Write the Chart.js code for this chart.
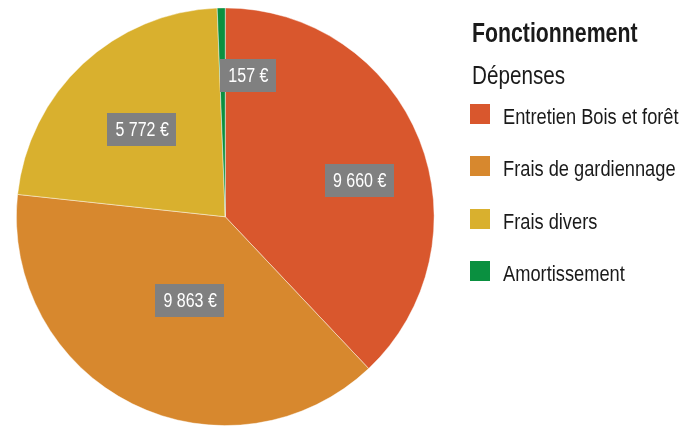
<!DOCTYPE html>
<html>
<head>
<meta charset="utf-8">
<script src="https://cdn.jsdelivr.net/npm/chart.js@4.4.1/dist/chart.umd.min.js"></script>
<style>
  html, body { margin: 0; padding: 0; background: #fff; }
  #wrap { position: relative; width: 697px; height: 426px; }
</style>
</head>
<body>
<div id="wrap"><canvas id="graficoDepenses"></canvas></div>
<script>
// donnees
var categories = ['Entretien Bois et forêt', 'Frais de gardiennage', 'Frais divers', 'Amortissement'];
var montants = [9660, 9863, 5772, 157];
var couleurs = ['#D9572D', '#D7882E', '#D9B02E', '#0A9040'];

var titre = 'Fonctionnement';
var sousTitre = 'Dépenses';

// placement des etiquettes: decalage d'angle (degres) et fraction du rayon
var etiquetteAngle = [6.4, -3.7, -0.5, 10.4];
var etiquetteRayon = [0.667, 0.436, 0.578, 0.686];

var police = '"Liberation Sans", Arial, sans-serif';

var formatEuro = function(v){
	return String(v).replace(/\B(?=(\d{3})+(?!\d))/g, ' ') + ' €';
};

// texte condense (pas de police etroite installee)
var texteEtroit = function(ctx, texte, x, y, sx){
	ctx.save();
	ctx.translate(x, y);
	ctx.scale(sx, 1);
	ctx.fillText(texte, 0, 0);
	ctx.restore();
};

var pluginEtiquettes = {
	id: 'etiquettes',
	afterDatasetsDraw: function(chart){
		var ctx = chart.ctx;
		var arcs = chart.getDatasetMeta(0).data;
		var sx = 0.8;
		ctx.save();
		ctx.font = '20px ' + police;
		ctx.textAlign = 'center';
		ctx.textBaseline = 'middle';
		for (var i = 0; i < arcs.length; i++) {
			var a = arcs[i].getProps(['x', 'y', 'startAngle', 'endAngle', 'outerRadius'], true);
			var mid = (a.startAngle + a.endAngle) / 2 + etiquetteAngle[i] * Math.PI / 180;
			var r = a.outerRadius * etiquetteRayon[i];
			var x = a.x + Math.cos(mid) * r;
			var y = a.y + Math.sin(mid) * r;
			var texte = formatEuro(montants[i]);
			var w = ctx.measureText(texte).width * sx + 16;
			var h = 33;
			ctx.fillStyle = '#808080';
			ctx.fillRect(Math.round(x - w / 2), Math.round(y - h / 2), Math.round(w), h);
			ctx.fillStyle = '#ffffff';
			texteEtroit(ctx, texte, x, y + 1, sx);
		}
		ctx.restore();
	}
};

var pluginLegende = {
	id: 'legende',
	afterDraw: function(chart){
		var ctx = chart.ctx;
		var x0 = 470;
		ctx.save();
		ctx.fillStyle = '#1a1a1a';
		ctx.textAlign = 'left';
		ctx.textBaseline = 'alphabetic';
		ctx.font = 'bold 28px ' + police;
		texteEtroit(ctx, titre, x0 + 2, 42, 0.76);
		ctx.font = '26px ' + police;
		texteEtroit(ctx, sousTitre, x0 + 2, 84, 0.795);

		ctx.font = '22px ' + police;
		var labels = chart.data.labels;
		var cores = chart.data.datasets[0].backgroundColor;
		for (var i = 0; i < labels.length; i++) {
			var cy = 114 + i * 52.4;
			ctx.fillStyle = cores[i];
			ctx.fillRect(x0, Math.round(cy - 10), 20, 20);
			ctx.fillStyle = '#1a1a1a';
			texteEtroit(ctx, labels[i], x0 + 33, cy + 10, 0.83);
		}
		ctx.restore();
	}
};

var grafico = new Chart(document.getElementById('graficoDepenses'), {
	type: 'pie',
	data: {
		labels: categories,
		datasets: [{
			data: montants,
			backgroundColor: couleurs,
			borderColor: 'rgba(255,255,255,0.55)',
			borderWidth: 0.8
		}]
	},
	options: {
		responsive: true,
		maintainAspectRatio: false,
		animation: false,
		layout: {
			padding: { left: 15.5, top: 7.5, right: 262, bottom: 0 }
		},
		plugins: {
			legend: { display: false },
			tooltip: { enabled: false }
		}
	},
	plugins: [pluginEtiquettes, pluginLegende]
});
</script>
</body>
</html>
